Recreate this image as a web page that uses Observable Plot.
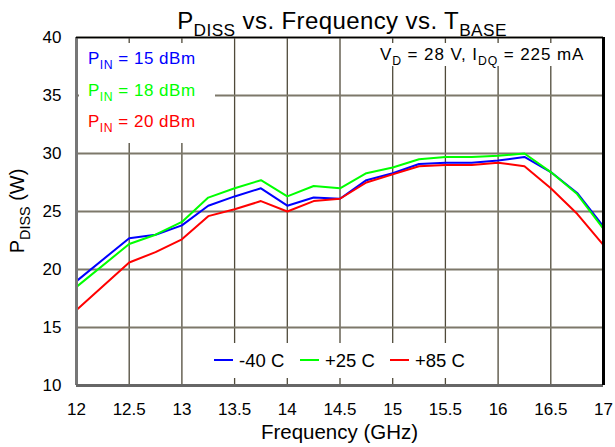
<!DOCTYPE html>
<html><head><meta charset="utf-8">
<script src="https://cdn.jsdelivr.net/npm/d3@7"></script>
<script src="https://cdn.jsdelivr.net/npm/@observablehq/plot@0.6"></script>
<style>
body{margin:0;background:#fff;font-family:"Liberation Sans",Arial,sans-serif}
svg{font-family:"Liberation Sans",Arial,sans-serif}
</style>
</head><body><div id="chart"></div>
<script>
const freq = [12, 12.5, 12.75, 13, 13.25, 13.5, 13.75, 14, 14.25, 14.5, 14.75, 15, 15.25, 15.5, 15.75, 16, 16.25, 16.5, 16.75, 17];
const pdissMinus40 = [19.0, 22.7, 23.0, 23.8, 25.5, 26.3, 27.0, 25.5, 26.2, 26.1, 27.7, 28.3, 29.1, 29.2, 29.2, 29.4, 29.7, 28.4, 26.6, 23.7];
const pdissPlus25 = [18.5, 22.2, 23.0, 24.1, 26.2, 27.0, 27.7, 26.3, 27.2, 27.0, 28.3, 28.8, 29.5, 29.7, 29.7, 29.8, 30.0, 28.4, 26.5, 23.5];
const pdissPlus85 = [16.5, 20.6, 21.5, 22.6, 24.6, 25.2, 25.9, 25.0, 25.9, 26.1, 27.5, 28.2, 28.9, 29.0, 29.0, 29.2, 28.9, 27.0, 24.8, 22.1];
const seriesNames = ["-40 C", "+25 C", "+85 C"];
const seriesColors = ["#0000ff", "#00ff00", "#ff0000"];
const pinLabels = ["15 dBm", "18 dBm", "20 dBm"];
const xTicks = [12, 12.5, 13, 13.5, 14, 14.5, 15, 15.5, 16, 16.5, 17];
const yTicks = [10, 15, 20, 25, 30, 35, 40];

const seriesValues = [pdissMinus40, pdissPlus25, pdissPlus85];
const table = seriesNames.flatMap((name, i) => freq.map((f, j) => ({series: name, freq: f, pdiss: seriesValues[i][j]})));

(function () {
const plot = Plot.plot({
  width: 615, height: 447,
  marginLeft: 76, marginRight: 12, marginTop: 37, marginBottom: 62,
  style: {fontSize: "17px", fontFamily: "Liberation Sans, Arial, sans-serif", color: "#000", background: "#fff"},
  x: {domain: [12, 17], ticks: xTicks},
  y: {domain: [10, 40], ticks: yTicks},
  color: {domain: seriesNames, range: seriesColors},
  marks: [
    Plot.ruleX(xTicks, {stroke: "#4f4a3a", strokeWidth: 1.3}),
    Plot.ruleY(yTicks, {stroke: "#7d786a", strokeWidth: 2}),
    Plot.line(table, {x: "freq", y: "pdiss", z: "series", stroke: "series", strokeWidth: 2}),
    Plot.ruleX([12], {stroke: "#777", strokeWidth: 3}),
    Plot.ruleY([10], {stroke: "#666", strokeWidth: 3}),
    Plot.ruleX([17], {stroke: "#000", strokeWidth: 3}),
    Plot.ruleY([40], {stroke: "#000", strokeWidth: 1.5}),
    Plot.axisX({ticks: xTicks, tickSize: 0, tickPadding: 17, label: null, fontSize: 17, tickFormat: d => String(d)}),
    Plot.axisY({ticks: yTicks, tickSize: 0, tickPadding: 15, label: null, fontSize: 17, tickFormat: d => String(d)})
  ]
});
document.getElementById("chart").appendChild(plot);

const svg = d3.select(plot);
const sx = plot.scale("x"), sy = plot.scale("y");
const g = svg.append("g").attr("text-anchor", "start");

function rich(parent, x, y, parts, size, fill, anchor, spacing) {
  const t = parent.append("text").attr("x", x).attr("y", y)
    .attr("font-size", size).attr("fill", fill).attr("text-anchor", anchor || "start")
    .attr("letter-spacing", spacing || 0);
  let shifted = false;
  for (const [s, sub] of parts) {
    const ts = t.append("tspan").text(s);
    if (sub && !shifted) { ts.attr("font-size", size * 0.72).attr("dy", size * 0.3); shifted = true; }
    else if (!sub && shifted) { ts.attr("dy", -size * 0.3); shifted = false; }
  }
  return t;
}

const pL = sx.apply(12), pR = sx.apply(17), pT = sy.apply(40), pB = sy.apply(10);
g.append("rect").attr("x", pL + 3).attr("y", pT + 6).attr("width", 136).attr("height", 100).attr("fill", "#fff");
g.append("rect").attr("x", 368).attr("y", pT + 6).attr("width", pR - 370).attr("height", 23).attr("fill", "#fff");
g.append("rect").attr("x", 200).attr("y", 343).attr("width", 275).attr("height", 35).attr("fill", "#fff");

rich(g, 342, 29, [["P"], ["DISS", 1], [" vs. Frequency vs. T"], ["BASE", 1]], 24, "#000", "middle", 0.4);
rich(g.append("g").attr("transform", `translate(24,${(pT + pB) / 2}) rotate(-90)`), 0, 0, [["P"], ["DISS", 1], [" (W)"]], 20, "#000", "middle");
g.append("text").attr("x", (pL + pR) / 2).attr("y", 439).attr("text-anchor", "middle").attr("font-size", 20.5).text("Frequency (GHz)");
rich(g, 380, 60, [["V"], ["D", 1], [" = 28 V, I"], ["DQ", 1], [" = 225 mA"]], 17, "#000", "start", 0.9);
pinLabels.forEach((lab, i) => {
  rich(g, 88, 64 + i * 31.5, [["P"], ["IN", 1], [" = " + lab]], 17, seriesColors[i], "start", 0.5);
});
const legX = [214, 300, 390];
seriesNames.forEach((name, i) => {
  g.append("line").attr("x1", legX[i]).attr("x2", legX[i] + 19).attr("y1", 360).attr("y2", 360)
    .attr("stroke", seriesColors[i]).attr("stroke-width", 2);
  g.append("text").attr("x", legX[i] + 25).attr("y", 367).attr("text-anchor", "start").attr("font-size", 18.5).text(name);
});
})();
</script>
</body></html>
